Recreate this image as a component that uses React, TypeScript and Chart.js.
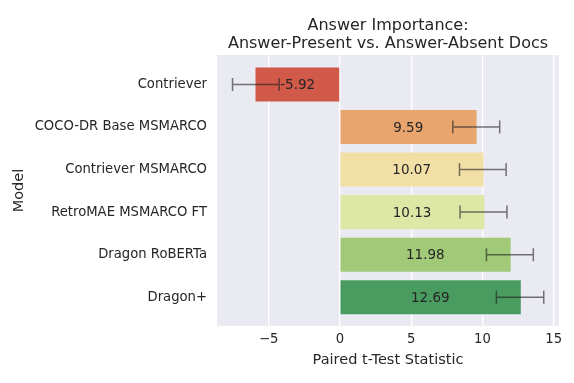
import React, { useEffect, useRef } from "react";
import { Chart, registerables } from "chart.js";

Chart.register(...registerables);

const models = [
  "Contriever",
  "COCO-DR Base MSMARCO",
  "Contriever MSMARCO",
  "RetroMAE MSMARCO FT",
  "Dragon RoBERTa",
  "Dragon+",
];
const values = [-5.92, 9.59, 10.07, 10.13, 11.98, 12.69];
const errLow = [-7.53, 7.92, 8.39, 8.43, 10.28, 10.98];
const errHigh = [-4.26, 11.21, 11.66, 11.72, 13.57, 14.3];
const barColors = ["#D0594A", "#E9A56E", "#F2DFA6", "#DEE8A6", "#A0C978", "#499B5F"];
const xTicks = [-5, 0, 5, 10, 15];
const titleLines = ["Answer Importance:", "Answer-Present vs. Answer-Absent Docs"];
const xTitle = "Paired t-Test Statistic";
const yTitle = "Model";

const FONT = "'DejaVu Sans', sans-serif";
const TXT = "#262626";

export default function App() {
  const ref = useRef<HTMLCanvasElement | null>(null);
  useEffect(() => {
    const canvas = ref.current;
    if (!canvas) return;
    const bgPlugin = {
      id: "bg",
      beforeDraw(chart: any) {
        const { ctx, chartArea: a } = chart;
        ctx.save();
        ctx.fillStyle = "#EAEAF2";
        ctx.fillRect(a.left, a.top, a.right - a.left, a.bottom - a.top);
        ctx.restore();
      },
    };
    const overlay = {
      id: "overlay",
      afterDatasetsDraw(chart: any) {
        const { ctx, scales, chartArea: a } = chart;
        const xs = scales.x;
        const ys = scales.y;
        ctx.save();
        ctx.strokeStyle = "rgba(30,30,30,0.6)";
        ctx.lineWidth = 1.5;
        for (let i = 0; i < values.length; i++) {
          const y = ys.getPixelForValue(i);
          const x1 = xs.getPixelForValue(errLow[i]);
          const x2 = xs.getPixelForValue(errHigh[i]);
          ctx.beginPath();
          ctx.moveTo(x1, y);
          ctx.lineTo(x2, y);
          ctx.moveTo(x1, y - 6.5);
          ctx.lineTo(x1, y + 6.5);
          ctx.moveTo(x2, y - 6.5);
          ctx.lineTo(x2, y + 6.5);
          ctx.stroke();
        }
        ctx.fillStyle = TXT;
        ctx.font = `13.5px ${FONT}`;
        ctx.textAlign = "center";
        ctx.textBaseline = "middle";
        for (let i = 0; i < values.length; i++) {
          const y = ys.getPixelForValue(i);
          const xc = (xs.getPixelForValue(0) + xs.getPixelForValue(values[i])) / 2;
          ctx.fillText(values[i].toFixed(2), xc, y + 1);
        }
        ctx.font = `16px ${FONT}`;
        ctx.textBaseline = "alphabetic";
        const cx = (a.left + a.right) / 2;
        ctx.fillText(titleLines[0], cx, 30);
        ctx.fillText(titleLines[1], cx, 47.7);
        ctx.restore();
      },
    };
    const chart = new Chart(canvas, {
      type: "bar",
      data: {
        datasets: [
          {
            data: values.map((v, i) => ({ x: v, y: i })),
            backgroundColor: barColors,
            borderWidth: 0,
            barPercentage: 0.8,
            categoryPercentage: 1,
          },
        ],
      },
      options: {
        indexAxis: "y",
        responsive: false,
        animation: false,
        layout: { padding: { left: 0, right: 15, top: 55, bottom: 0 } },
        plugins: { legend: { display: false }, tooltip: { enabled: false }, title: { display: false } },
        scales: {
          x: {
            type: "linear",
            position: "bottom",
            offset: false,
            min: -8.62,
            max: 15.37,
            afterBuildTicks: (s: any) => {
              s.ticks = xTicks.map((v) => ({ value: v }));
            },
            afterFit: (s: any) => {
              s.height = 57;
            },
            grid: { color: "#FFFFFF", lineWidth: 1.3, drawTicks: false, offset: false },
            border: { display: false },
            ticks: { color: TXT, font: { family: FONT, size: 13.2 }, padding: 6, callback: (v: any) => (v < 0 ? "\u2212" + Math.abs(v) : String(v)) },
            title: { display: true, text: xTitle, color: TXT, font: { family: FONT, size: 14.5 }, padding: { top: 0, bottom: 14.3 } },
          },
          y: {
            type: "linear",
            position: "left",
            reverse: true,
            offset: false,
            min: -0.692,
            max: 5.676,
            afterBuildTicks: (s: any) => {
              s.ticks = models.map((_, i) => ({ value: i }));
            },
            afterFit: (s: any) => {
              s.width = 217;
            },
            grid: { display: false, drawTicks: false, offset: false },
            border: { display: false },
            ticks: { color: TXT, font: { family: FONT, size: 13.2 }, padding: 10, callback: (v: any) => models[v] ?? "" },
            title: { display: true, text: yTitle, color: TXT, font: { family: FONT, size: 14.5 }, padding: { top: 11, bottom: 0 } },
          },
        },
      },
      plugins: [bgPlugin, overlay],
    } as any);
    return () => chart.destroy();
  }, []);
  return (
    <div style={{ position: "absolute", left: 0, top: 0, width: 574, height: 383, background: "#fff" }}>
      <canvas ref={ref} width={574} height={383} style={{ width: 574, height: 383 }} />
    </div>
  );
}
